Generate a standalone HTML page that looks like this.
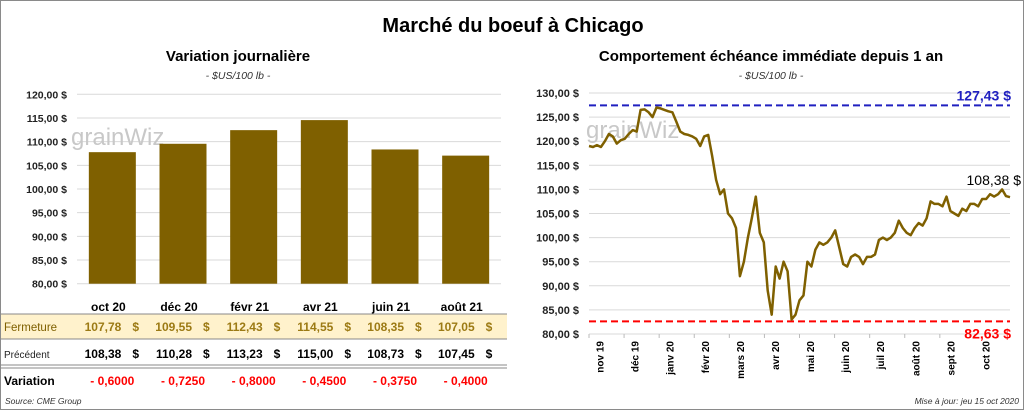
<!DOCTYPE html>
<html><head><meta charset="utf-8"><style>
body{margin:0;background:#fff;}
#root{position:relative;width:1022px;height:408px;border:1px solid #8a8a8a;overflow:hidden;font-family:"Liberation Sans",sans-serif;}
svg{position:absolute;left:0;top:0;}
</style></head><body>
<div id="root">
<svg id="svg" width="1024" height="410">
<text x="512" y="31" text-anchor="middle" font-size="20" font-weight="bold" fill="#000">Marché du boeuf à Chicago</text>
<text x="237" y="60" text-anchor="middle" font-size="15" font-weight="bold">Variation  journalière</text>
<text x="237" y="78" text-anchor="middle" font-size="10.5" font-style="italic" fill="#333">- $US/100 lb -</text>
<text x="770" y="60" text-anchor="middle" font-size="15" font-weight="bold">Comportement  échéance immédiate depuis 1 an</text>
<text x="770" y="78" text-anchor="middle" font-size="10.5" font-style="italic" fill="#333">- $US/100 lb -</text>
<g id="left"></g><g id="right"></g><g id="table"></g>
<text x="4" y="403" font-size="8.5" font-style="italic" fill="#333">Source: CME Group</text>
<text x="1018" y="403" text-anchor="end" font-size="8.5" font-style="italic" fill="#333">Mise à jour: jeu 15 oct 2020</text>
</svg>
</div>
<script>
const barCategories=["oct 20","déc 20","févr 21","avr 21","juin 21","août 21"];
const closeValues=[107.78,109.55,112.43,114.55,108.35,107.05];
const prevValues=[108.38,110.28,113.23,115.00,108.73,107.45];
const changeLabels=["- 0,6000","- 0,7250","- 0,8000","- 0,4500","- 0,3750","- 0,4000"];
const leftTicks=[80,85,90,95,100,105,110,115,120];
const rightTicks=[80,85,90,95,100,105,110,115,120,125,130];
const monthLabels=["nov 19","déc 19","janv 20","févr 20","mars 20","avr 20","mai 20","juin 20","juil 20","août 20","sept 20","oct 20"];
const priceSeries=[119,118.8,119.2,118.8,120,121.5,121,119.5,120.2,120.5,121.5,122.3,122,126.5,126.6,126,125,127,126.8,126.5,126.2,126,124,122,121.5,121.3,121,120.5,119,121,121.3,117,112,109,110,105,104,102,92,95,100,104,108.5,101,99,89,84,94,91.5,95,93,83,84,87,88,95,94,97.5,99,98.5,99,100,101.5,98,94.5,94,96,96.5,96,94.5,96,96,96.5,99.5,100,99.5,100,101,103.5,102,101,100.5,102,103,102.5,104,107.5,107,107,106.5,108.5,105.5,105,104.5,106,105.5,107,107,106.5,108,108,109,108.5,109,110,108.6,108.38];
const highValue=127.43, lowValue=82.63, lastValue=108.38;
const NS="http://www.w3.org/2000/svg";
function mk(p,t,a,txt){const e=document.createElementNS(NS,t);for(const k in a)e.setAttribute(k,a[k]);if(txt!==undefined)e.textContent=txt;p.appendChild(e);return e;}
const fr=(v,d)=>v.toFixed(d).replace('.',',');
// left chart
const L=document.getElementById('left');
const lx0=76,lx1=500,ly=v=>282.7-(v-80)*(189.4/40);
leftTicks.forEach(t=>{const g=mk(L,'line',{x1:lx0,x2:lx1,y1:ly(t),y2:ly(t),stroke:'#d9d9d9'});

const tx=mk(L,'text',{x:66,y:ly(t)+4,'text-anchor':'end','font-size':10.5,'font-weight':'bold',fill:'#222'},fr(t,2)+' $');
});
const wm=mk(L,'text',{x:70,y:144,'font-size':24,fill:'#c8c8c8'},'grainWiz');

const cw=(lx1-lx0)/barCategories.length;
closeValues.forEach((v,i)=>{const cx=lx0+cw*(i+0.5);
const b=mk(L,'rect',{x:cx-23.5,y:ly(v),width:47,height:ly(80)-ly(v),fill:'#7f6000'});
});
// table
const T=document.getElementById('table');
const cols=barCategories.map((c,i)=>lx0+cw*(i+0.5)-4);
const bg=mk(T,'rect',{x:0,y:313,width:506,height:25,fill:'#fff2cc'});
[[0,313,'#888',1],[0,338,'#888',1],[0,364,'#888',1],[0,367,'#888',1]].forEach(a=>{const l=mk(T,'line',{x1:0,x2:506,y1:a[1],y2:a[1],stroke:a[2],'stroke-width':a[3]});});
barCategories.forEach((c,i)=>{const t=mk(T,'text',{x:cols[i],y:310,'text-anchor':'middle','font-size':12,'font-weight':'bold'},c);});
const r1=mk(T,'text',{x:3,y:330,'font-size':11.5,fill:'#7f6000'},'Fermeture');
const r2=mk(T,'text',{x:3,y:357,'font-size':10,fill:'#222'},'Précédent');
const r3=mk(T,'text',{x:3,y:384,'font-size':12,'font-weight':'bold'},'Variation');
closeValues.forEach((v,i)=>{const x=cols[i];
const a=mk(T,'text',{x:x+13,y:330,'text-anchor':'end','font-size':12,'font-weight':'bold',fill:'#9c7a14'},fr(v,2));
const a2=mk(T,'text',{x:x+24,y:330,'font-size':12,'font-weight':'bold',fill:'#9c7a14'},'$');
const b=mk(T,'text',{x:x+13,y:357,'text-anchor':'end','font-size':12,'font-weight':'bold'},fr(prevValues[i],2));
const b2=mk(T,'text',{x:x+24,y:357,'font-size':12,'font-weight':'bold'},'$');
const c=mk(T,'text',{x:x+4,y:384,'text-anchor':'middle','font-size':12,'font-weight':'bold',fill:'#ff0000'},changeLabels[i]);});
// right chart
const R=document.getElementById('right');
const rx0=588,rx1=1009,ry=v=>333-(v-80)*(241/50);
rightTicks.forEach(t=>{const g=mk(R,'line',{x1:rx0,x2:rx1,y1:ry(t),y2:ry(t),stroke:'#d9d9d9'});

const tx=mk(R,'text',{x:578,y:ry(t)+4,'text-anchor':'end','font-size':11,'font-weight':'bold',fill:'#222'},fr(t,2)+' $');
});
const wm2=mk(R,'text',{x:585,y:137,'font-size':24,fill:'#c8c8c8'},'grainWiz');

const mw=(rx1-rx0)/monthLabels.length;
monthLabels.forEach((m,i)=>{const tk=mk(R,'line',{x1:rx0+mw*i,x2:rx0+mw*i,y1:333,y2:337,stroke:'#bbb'});
const cx=rx0+mw*(i+0.3)+4;const t=mk(R,'text',{x:0,y:0,'text-anchor':'end','font-size':10,'font-weight':'bold',transform:`translate(${cx},340) rotate(-90)`},m);
});
const hl=mk(R,'line',{x1:rx0,x2:rx1,y1:ry(highValue),y2:ry(highValue),stroke:'#2020c0','stroke-width':2,'stroke-dasharray':'7,4'});
const ll=mk(R,'line',{x1:rx0,x2:rx1,y1:ry(lowValue),y2:ry(lowValue),stroke:'#ff0000','stroke-width':2,'stroke-dasharray':'7,4'});
const n=priceSeries.length;
const pts=priceSeries.map((v,i)=>(rx0+(rx1-rx0)*i/(n-1)).toFixed(1)+','+ry(v).toFixed(1)).join(' ');
const pl=mk(R,'polyline',{points:pts,fill:'none',stroke:'#7f6000','stroke-width':2.5,'stroke-linejoin':'round'});
const hlab=mk(R,'text',{x:1010,y:ry(highValue)-5,'text-anchor':'end','font-size':14,'font-weight':'bold',fill:'#2020c0'},fr(highValue,2)+' $');
const llab=mk(R,'text',{x:1010,y:ry(lowValue)+17,'text-anchor':'end','font-size':14,'font-weight':'bold',fill:'#ff0000'},fr(lowValue,2)+' $');
const la=mk(R,'text',{x:1020,y:ry(lastValue)-12,'text-anchor':'end','font-size':14,fill:'#000'},fr(lastValue,2)+' $');
</script>
</body></html>
